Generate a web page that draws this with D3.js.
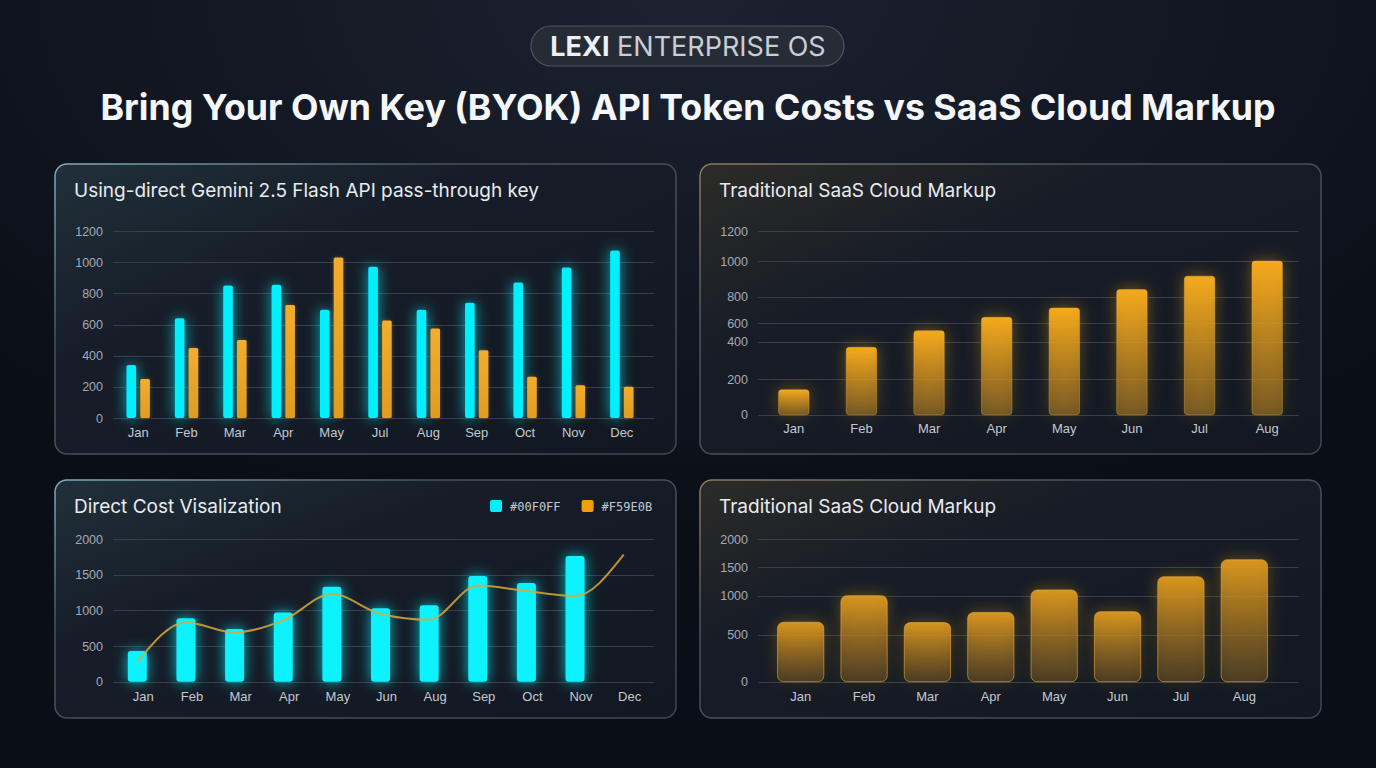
<!DOCTYPE html>
<html>
	<head>
		<meta charset="utf-8">
		<title>BYOK API Token Costs vs SaaS Cloud Markup</title>
		<script src="https://d3js.org/d3.v7.min.js"></script>
		<style type="text/css">
			html, body { margin: 0; padding: 0; background: #0b0f17; overflow: hidden; }
			svg { display: block; font-family: Inter, 'Noto Sans', sans-serif; }
			.axis path { display: none; }
			.axis line { stroke: #363e4a; stroke-width: 1; shape-rendering: crispEdges; }
			.axis text { fill: #a2aab6; font-size: 12.5px; }
			.months text { fill: #c3c9d2; font-size: 13px; }
		</style>
	</head>
	<body>
		<script type="text/javascript">

			//Panel 1: direct key vs saas (no Jun)
			var monthsA = ['Jan', 'Feb', 'Mar', 'Apr', 'May', 'Jul', 'Aug', 'Sep', 'Oct', 'Nov', 'Dec'];
			var directA = [340, 640, 850, 855, 695, 970, 695, 740, 870, 965, 1075];
			var saasA = [250, 450, 500, 725, 1030, 625, 575, 435, 265, 210, 200];
			var ticksA = [0, 200, 400, 600, 800, 1000, 1200];

			//Panel 2: saas markup
			var monthsB = ['Jan', 'Feb', 'Mar', 'Apr', 'May', 'Jun', 'Jul', 'Aug'];
			var saasB = [140, 370, 520, 645, 715, 840, 915, 1000];
			var ticksB = [0, 200, 400, 600, 800, 1000, 1200];

			//Panel 3: direct cost + trend (no Jul)
			var monthsC = ['Jan', 'Feb', 'Mar', 'Apr', 'May', 'Jun', 'Aug', 'Sep', 'Oct', 'Nov', 'Dec'];
			var directC = [430, 890, 740, 970, 1330, 1030, 1070, 1480, 1385, 1760, null];
			var trendC = [275, 830, 690, 860, 1230, 950, 870, 1350, 1270, 1200, 1780];
			var ticksC = [0, 500, 1000, 1500, 2000];
			var legendC = ['#00F0FF', '#F59E0B'];

			//Panel 4: saas markup
			var monthsD = ['Jan', 'Feb', 'Mar', 'Apr', 'May', 'Jun', 'Jul', 'Aug'];
			var saasD = [660, 1000, 655, 785, 1100, 795, 1330, 1630];
			var ticksD = [0, 500, 1000, 1500, 2000];

			var svgWidth = 1376;
			var svgHeight = 768;
			var cyan = '#00F0FF';
			var amber = '#F59E0B';

			var svg = d3.select('body')
				.append('svg')
				.attr('width', svgWidth)
				.attr('height', svgHeight);

			var defs = svg.append('defs');

			//Fondo
			var bg = defs.append('radialGradient').attr('id', 'bgGlow')
				.attr('cx', '50%').attr('cy', '0%').attr('r', '70%');
			bg.append('stop').attr('offset', '0%').attr('stop-color', '#1b2230');
			bg.append('stop').attr('offset', '100%').attr('stop-color', '#0a0e16');

			function linGrad(id, x2, y2, stops) {
				var g = defs.append('linearGradient').attr('id', id)
					.attr('x1', 0).attr('y1', 0).attr('x2', x2).attr('y2', y2);
				stops.forEach(function(s) {
					g.append('stop').attr('offset', s[0]).attr('stop-color', s[1]).attr('stop-opacity', s[2]);
				});
			}

			linGrad('panelTeal', 1, 1, [[0, '#20303a', 1], [0.35, '#161d28', 1], [1, '#121822', 1]]);
			linGrad('panelWarm', 1, 1, [[0, '#2c2b28', 1], [0.35, '#171c26', 1], [1, '#121822', 1]]);
			linGrad('borderTeal', 1, 1, [[0, '#7fb0ba', 1], [0.3, '#48525e', 1], [1, '#3e4652', 1]]);
			linGrad('borderWarm', 1, 1, [[0, '#8a7c66', 1], [0.3, '#48525e', 1], [1, '#3e4652', 1]]);
			linGrad('barAmber', 0, 1, [[0, '#f6aa1c', 1], [1, '#b07d22', 0.55]]);
			linGrad('barAmberSoft', 0, 1, [[0, '#e09a1e', 0.95], [1, '#7a5a22', 0.45]]);
			linGrad('barAmberFlat', 0, 1, [[0, '#f2ad30', 1], [1, '#e09c22', 1]]);

			//Halo suave: blur atenuado + original
			function glow(id, dev, alpha) {
				var f = defs.append('filter').attr('id', id)
					.attr('x', '-150%').attr('y', '-40%').attr('width', '400%').attr('height', '180%');
				f.append('feGaussianBlur').attr('in', 'SourceGraphic').attr('stdDeviation', dev).attr('result', 'b');
				f.append('feComponentTransfer').attr('in', 'b').attr('result', 'c')
					.append('feFuncA').attr('type', 'linear').attr('slope', alpha);
				var m = f.append('feMerge');
				m.append('feMergeNode').attr('in', 'c');
				m.append('feMergeNode').attr('in', 'SourceGraphic');
			}
			glow('glowCyan', 7, 0.75);
			glow('glowAmber', 8, 0.45);
			glow('glowSoft', 2, 0.3);

			svg.append('rect')
				.attr('width', svgWidth)
				.attr('height', svgHeight)
				.attr('fill', 'url(#bgGlow)');

			//Cabecera
			svg.append('rect')
				.attr('x', 531).attr('y', 26)
				.attr('width', 313).attr('height', 40)
				.attr('rx', 20)
				.attr('fill', '#262c36')
				.attr('stroke', '#4d5561')
				.attr('stroke-width', 1.2);

			var pill = svg.append('text')
				.attr('x', 688).attr('y', 56)
				.attr('text-anchor', 'middle')
				.attr('font-size', 27);
			pill.append('tspan').attr('font-weight', 700).attr('fill', '#eef0f3').text('LEXI');
			pill.append('tspan').attr('fill', '#c9cdd4').text(' ENTERPRISE OS');

			svg.append('text')
				.attr('x', 688).attr('y', 120)
				.attr('text-anchor', 'middle')
				.attr('font-size', 35.7)
				.attr('font-weight', 700)
				.attr('fill', '#f5f7fa')
				.text('Bring Your Own Key (BYOK) API Token Costs vs SaaS Cloud Markup');

			//Paneles
			function panel(px, py, pw, ph, tint, title) {
				var g = svg.append('g').attr('transform', 'translate(' + px + ',' + py + ')');
				g.append('rect')
					.attr('width', pw).attr('height', ph)
					.attr('rx', 12)
					.attr('fill', tint == 'teal' ? 'url(#panelTeal)' : 'url(#panelWarm)')
					.attr('stroke', tint == 'teal' ? 'url(#borderTeal)' : 'url(#borderWarm)')
					.attr('stroke-width', 1.5);
				g.append('text')
					.attr('x', 19).attr('y', 33)
					.attr('font-size', 19)
					.attr('fill', '#e8ebef')
					.text(title);
				return g;
			}

			function yAxis(g, scale, ticks) {
				g.append('g')
					.attr('class', 'axis')
					.attr('transform', 'translate(58,0)')
					.call(d3.axisLeft(scale).tickValues(ticks).tickFormat(d3.format('d')).tickSize(-541).tickPadding(10));
			}

			function xAxis(g, scale, y0, pad) {
				g.append('g')
					.attr('class', 'axis months')
					.attr('transform', 'translate(0,' + y0 + ')')
					.call(d3.axisBottom(scale).tickSize(0).tickPadding(pad));
			}

			//Panel 1
			var g1 = panel(55, 164, 621, 290, 'teal', 'Using-direct Gemini 2.5 Flash API pass-through key');
			var x1 = d3.scaleBand().domain(monthsA).range([59, 591]);
			var x1s = d3.scaleBand().domain(['direct', 'saas']).range([-11.7, 11.7]).paddingInner(0.3);
			var y1 = d3.scaleLinear().domain([0, 1200]).range([254, 67]);
			yAxis(g1, y1, ticksA);
			xAxis(g1, x1, y1(0), 10);

			g1.selectAll('.a-direct')
				.data(directA)
				.enter()
				.append('rect')
				.attr('x', function(d, i) { return x1(monthsA[i]) + x1.bandwidth() / 2 + x1s('direct'); })
				.attr('y', function(d) { return y1(d); })
				.attr('width', x1s.bandwidth())
				.attr('height', function(d) { return y1(0) - y1(d); })
				.attr('rx', 2)
				.attr('fill', cyan)
				.attr('filter', 'url(#glowCyan)');

			g1.selectAll('.a-saas')
				.data(saasA)
				.enter()
				.append('rect')
				.attr('x', function(d, i) { return x1(monthsA[i]) + x1.bandwidth() / 2 + x1s('saas'); })
				.attr('y', function(d) { return y1(d); })
				.attr('width', x1s.bandwidth())
				.attr('height', function(d) { return y1(0) - y1(d); })
				.attr('rx', 1.5)
				.attr('fill', 'url(#barAmberFlat)')
				.attr('filter', 'url(#glowSoft)');

			//Panel 2 (eje y irregular como en el original)
			var g2 = panel(700, 164, 621, 290, 'warm', 'Traditional SaaS Cloud Markup');
			var x2 = d3.scaleBand().domain(monthsB).range([60, 601]).paddingInner(0.55).paddingOuter(0.275);
			var y2 = d3.scaleLinear().domain(ticksB).range([250.7, 215, 177.7, 159.3, 132.7, 97, 67]);
			yAxis(g2, y2, ticksB);
			xAxis(g2, x2, y2(0), 9);

			g2.selectAll('.b-saas')
				.data(saasB)
				.enter()
				.append('rect')
				.attr('x', function(d, i) { return x2(monthsB[i]); })
				.attr('y', function(d) { return y2(d); })
				.attr('width', x2.bandwidth())
				.attr('height', function(d) { return y2(0) - y2(d); })
				.attr('rx', 3)
				.attr('fill', 'url(#barAmber)')
				.attr('stroke', '#f7b84a')
				.attr('stroke-opacity', 0.35)
				.attr('filter', 'url(#glowAmber)');

			//Panel 3
			var g3 = panel(55, 480, 621, 238, 'teal', 'Direct Cost Visalization');
			var x3 = d3.scaleBand().domain(monthsC).range([64, 599]);
			var y3 = d3.scaleLinear().domain([0, 2000]).range([201.7, 59]);
			var shift3 = -6;
			yAxis(g3, y3, ticksC);
			xAxis(g3, x3, y3(0), 10);

			g3.selectAll('.c-direct')
				.data(directC.filter(function(d) { return d != null; }))
				.enter()
				.append('rect')
				.attr('x', function(d, i) { return x3(monthsC[i]) + x3.bandwidth() / 2 + shift3 - 9.5; })
				.attr('y', function(d) { return y3(d); })
				.attr('width', 19)
				.attr('height', function(d) { return y3(0) - y3(d); })
				.attr('rx', 3)
				.attr('fill', '#10f2ff')
				.attr('filter', 'url(#glowCyan)');

			var trendLine = d3.line()
				.x(function(d, i) { return x3(monthsC[i]) + x3.bandwidth() / 2 + shift3; })
				.y(function(d) { return y3(d); })
				.curve(d3.curveMonotoneX);

			g3.append('path')
				.datum(trendC)
				.attr('d', trendLine)
				.attr('fill', 'none')
				.attr('stroke', '#dca834')
				.attr('stroke-opacity', 0.85)
				.attr('stroke-width', 2);

			//Leyenda
			var legend = g3.selectAll('.legend')
				.data(legendC)
				.enter()
				.append('g')
				.attr('transform', function(d, i) { return 'translate(' + (435 + i * 91.6) + ',20)'; });
			legend.append('rect')
				.attr('width', 12).attr('height', 12).attr('rx', 2)
				.attr('fill', function(d, i) { return i == 0 ? cyan : amber; });
			legend.append('text')
				.attr('x', 20).attr('y', 11)
				.attr('font-family', "'DejaVu Sans Mono', monospace")
				.attr('font-size', 12)
				.attr('fill', '#c2c8d0')
				.text(function(d) { return d; });

			//Panel 4 (eje y irregular)
			var g4 = panel(700, 480, 621, 238, 'warm', 'Traditional SaaS Cloud Markup');
			var x4 = d3.scaleBand().domain(monthsD).range([69, 576]).paddingInner(0.27).paddingOuter(0.135);
			var y4 = d3.scaleLinear().domain(ticksD).range([201.7, 154.7, 115.7, 87, 59]);
			yAxis(g4, y4, ticksD);
			xAxis(g4, x4, y4(0), 10);

			g4.selectAll('.d-saas')
				.data(saasD)
				.enter()
				.append('rect')
				.attr('x', function(d, i) { return x4(monthsD[i]); })
				.attr('y', function(d) { return y4(d); })
				.attr('width', x4.bandwidth())
				.attr('height', function(d) { return y4(0) - y4(d); })
				.attr('rx', 6)
				.attr('fill', 'url(#barAmberSoft)')
				.attr('stroke', '#f0b444')
				.attr('stroke-opacity', 0.55)
				.attr('filter', 'url(#glowAmber)');

		</script>
	</body>
</html>
